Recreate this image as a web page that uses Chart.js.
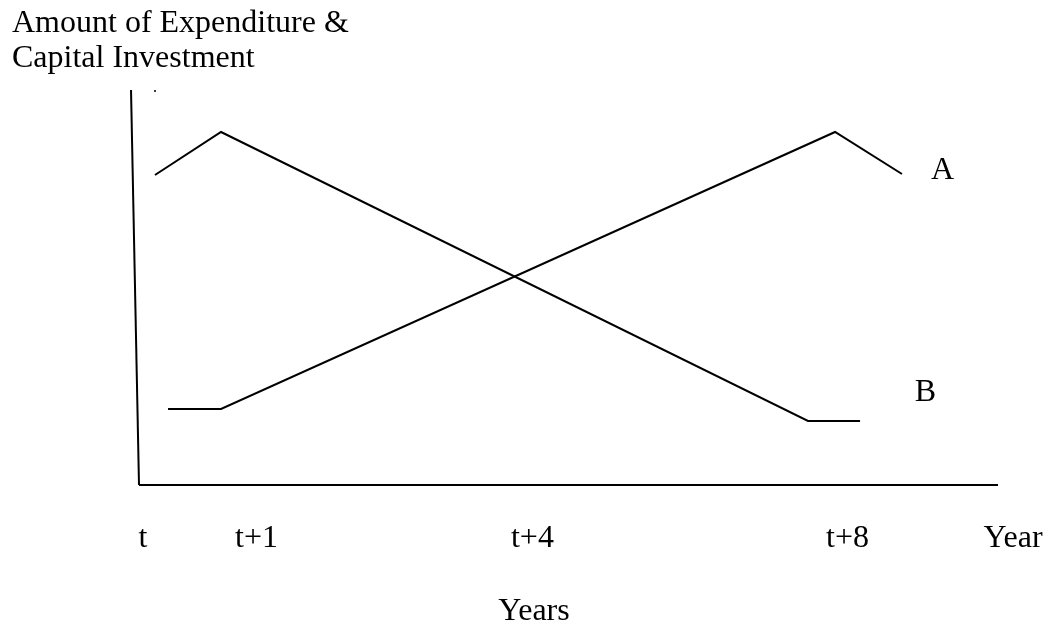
<!DOCTYPE html>
<html>
<head>
<meta charset="utf-8">
<script src="https://cdn.jsdelivr.net/npm/chart.js@4/dist/chart.umd.min.js"></script>
<style>
  html, body { margin: 0; padding: 0; background: #fff; }
  #wrap { width: 1046px; height: 625px; position: relative; }
</style>
</head>
<body>
<div id="wrap"><canvas id="c" width="1046" height="625"></canvas></div>
<script>
// ---- Data (x: position along the time axis, 0 = origin, 100 = end of axis; y: amount, 0..100) ----
const yAxisTitle = ["Amount of Expenditure &", "Capital Investment"];
const xAxisTitle = "Years";

const tickLabels = ["t", "t+1", "t+4", "t+8", "Year"];
const tickPos    = [0.47, 13.68, 45.8, 82.48, 101.75];

const seriesNames = ["A", "B"];

const seriesAX = [3.38, 9.55, 81.03, 88.82];
const seriesAY = [19.24, 19.24, 89.37, 78.73];

const seriesBX = [1.86, 9.55, 77.88, 83.94];
const seriesBY = [78.48, 89.37, 16.20, 16.20];

// label anchor positions for series names
const labelAX = 93.54, labelAY = 79.6;
const labelBX = 91.56, labelBY = 23.4;

// hand-drawn axes
const axisYX = [0, -0.93];
const axisYY = [0, 100];
const axisXX = [0, 100];
const axisXY = [0, 0];

// stray dot near top of vertical axis
const dotX = [1.86];
const dotY = [99.75];

const FONT = "'Liberation Serif', 'Times New Roman', serif";
const FS = 32;

const zip = (xs, ys) => xs.map((x, i) => ({ x, y: ys[i] }));

const seriesLabelPlugin = {
  id: 'seriesLabels',
  afterDatasetsDraw(chart) {
    const { ctx, scales: { x, y } } = chart;
    ctx.save();
    ctx.fillStyle = '#000';
    ctx.font = FS + 'px ' + FONT;
    ctx.textAlign = 'center';
    ctx.textBaseline = 'middle';
    ctx.fillText(seriesNames[0], x.getPixelForValue(labelAX), y.getPixelForValue(labelAY));
    ctx.fillText(seriesNames[1], x.getPixelForValue(labelBX), y.getPixelForValue(labelBY));
    ctx.restore();
  }
};

const lineDs = (data, extra) => Object.assign({
  data, borderColor: '#000', borderWidth: 2, pointRadius: 0,
  showLine: true, tension: 0, fill: false, clip: false
}, extra || {});

new Chart(document.getElementById('c'), {
  type: 'scatter',
  data: {
    datasets: [
      lineDs(zip(axisYX, axisYY), { label: 'y-axis' }),
      lineDs(zip(axisXX, axisXY), { label: 'x-axis' }),
      lineDs(zip(seriesAX, seriesAY), { label: seriesNames[0] }),
      lineDs(zip(seriesBX, seriesBY), { label: seriesNames[1] }),
      { label: 'dot', data: zip(dotX, dotY), showLine: false, pointRadius: 1,
        pointBackgroundColor: '#000', pointBorderWidth: 0, clip: false }
    ]
  },
  options: {
    responsive: false,
    animation: false,
    devicePixelRatio: 1,
    layout: { padding: { left: 12, right: 0, top: 6, bottom: 0 } },
    plugins: {
      legend: { display: false },
      tooltip: { enabled: false },
      title: {
        display: true,
        text: yAxisTitle,
        align: 'start',
        color: '#000',
        font: { family: FONT, size: FS, weight: 'normal', lineHeight: 35 / FS },
        padding: { top: 0, bottom: 14 }
      }
    },
    scales: {
      x: {
        type: 'linear',
        min: -13.155,
        max: 105.12,
        grid: { display: false, drawTicks: false },
        border: { display: false },
        afterBuildTicks: (scale) => { scale.ticks = tickPos.map(v => ({ value: v })); },
        afterFit: (scale) => { scale.height = 140; scale.paddingLeft = 0; scale.paddingRight = 0; },
        ticks: {
          autoSkip: false,
          maxRotation: 0,
          minRotation: 0,
          padding: 34,
          color: '#000',
          font: { family: FONT, size: FS, lineHeight: 1.2 },
          callback: (v, i) => tickLabels[i]
        },
        title: {
          display: true,
          text: xAxisTitle,
          color: '#000',
          font: { family: FONT, size: FS, lineHeight: 0.8 },
          padding: { top: 0, bottom: 1 }
        }
      },
      y: {
        type: 'linear',
        min: 0,
        max: 100,
        grid: { display: false, drawTicks: false },
        border: { display: false },
        ticks: { display: false },
        afterFit: (scale) => { scale.width = 14; }
      }
    }
  },
  plugins: [seriesLabelPlugin]
});
</script>
</body>
</html>
